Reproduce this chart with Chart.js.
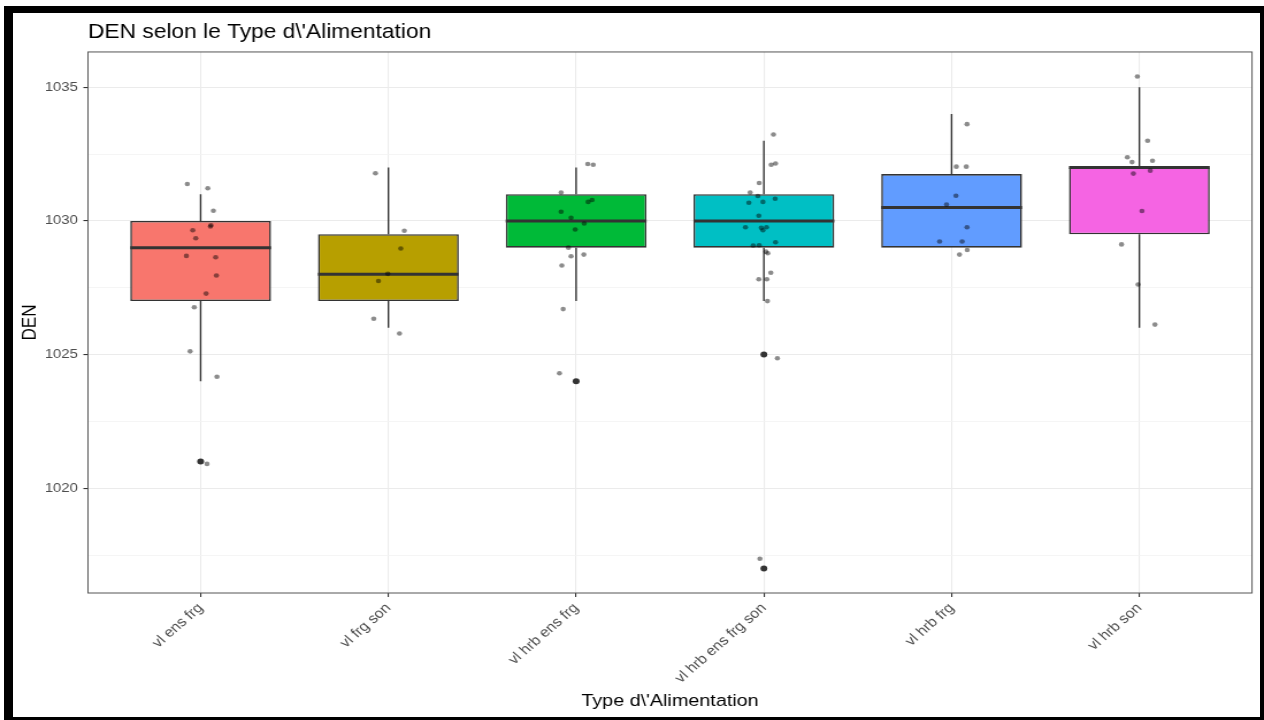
<!DOCTYPE html>
<html>
<head>
<meta charset="utf-8">
<title>DEN selon le Type d'Alimentation</title>
<script src="https://cdn.jsdelivr.net/npm/chart.js@4.4.1/dist/chart.umd.min.js"></script>
<style>
  html, body { margin: 0; padding: 0; background: #fff; overflow: hidden; }
  /* the reference is a horizontally stretched screenshot, so the chart is drawn narrow and stretched */
  #stage { position: absolute; left: 0; top: 0; width: 1099px; height: 720px; transform: scaleX(1.1501); transform-origin: 0 0; }
  #frame { position: absolute; left: 4px; top: 6px; width: 1260px; height: 714px; box-sizing: border-box;
           border-style: solid; border-color: #000; border-width: 7px 4px 3px 9px; pointer-events: none; }
</style>
</head>
<body>
<div id="stage"><canvas id="chart" width="1099" height="720"></canvas></div>
<div id="frame"></div>
<script>
// categories and box statistics
const categories = ['vl ens frg', 'vl frg son', 'vl hrb ens frg', 'vl hrb ens frg son', 'vl hrb frg', 'vl hrb son'];
const boxQ1 = [1027, 1027, 1029, 1029, 1029, 1029.5];
const boxMedian = [1029, 1028, 1030, 1030, 1030.5, 1032];
const boxQ3 = [1030, 1029.5, 1031, 1031, 1031.75, 1032];
const whiskerLow = [1024, 1026, 1027, 1027, 1029, 1026];
const whiskerHigh = [1031, 1032, 1032, 1033, 1034, 1035];
const outlierGroup = [1, 3, 4, 4];
const outlierValue = [1021, 1024, 1025, 1017];

// jittered observations: horizontal offset from the category centre, and value
const jitterDx = [
  [-0.071, 0.038, 0.068, 0.055, 0.052, -0.042, -0.026, -0.076, 0.080, 0.084, 0.029, -0.034, -0.056, 0.087, 0.034],
  [-0.069, 0.085, 0.066, -0.003, -0.053, -0.078, 0.059],
  [0.062, 0.091, -0.080, 0.085, 0.064, -0.080, -0.027, 0.043, -0.005, -0.041, -0.027, 0.041, -0.076, -0.069, -0.089],
  [0.051, 0.039, 0.062, -0.025, -0.073, -0.032, 0.060, -0.080, -0.005, -0.027, -0.098, -0.014, 0.014, -0.005, -0.057,
   -0.025, 0.062, 0.011, 0.021, 0.037, -0.027, 0.016, 0.019, 0.072, -0.021],
  [0.082, 0.025, 0.078, 0.023, -0.027, 0.082, -0.064, 0.056, 0.083, 0.042],
  [-0.011, 0.044, -0.064, -0.039, 0.070, 0.058, -0.032, 0.014, -0.095, -0.007, 0.083]
];
const jitterY = [
  [1031.38, 1031.22, 1030.38, 1029.84, 1029.79, 1029.65, 1029.35, 1028.69, 1028.64, 1027.96, 1027.28, 1026.77, 1025.12, 1024.17, 1020.91],
  [1031.78, 1029.63, 1028.97, 1028.02, 1027.75, 1026.34, 1025.79],
  [1032.13, 1032.10, 1031.06, 1030.78, 1030.71, 1030.34, 1030.12, 1029.90, 1029.68, 1029.00, 1028.68, 1028.74, 1028.33, 1026.70, 1024.30],
  [1033.23, 1032.10, 1032.15, 1031.42, 1031.06, 1030.93, 1030.83, 1030.68, 1030.71, 1030.19, 1029.76, 1029.74, 1029.76, 1029.65, 1029.08,
   1029.09, 1029.20, 1028.85, 1028.79, 1028.06, 1027.82, 1027.82, 1027.00, 1024.86, 1017.36],
  [1033.62, 1032.03, 1032.03, 1030.94, 1030.61, 1029.76, 1029.23, 1029.23, 1028.91, 1028.74],
  [1035.40, 1033.00, 1032.38, 1032.20, 1032.25, 1031.88, 1031.77, 1030.37, 1029.12, 1027.62, 1026.12]
];

const fillColors = ['#F8766D', '#B79F00', '#00BA38', '#00BFC4', '#619CFF', '#F564E3'];
const yMajorTicks = [1020, 1025, 1030, 1035];
const yMinorTicks = [1017.5, 1022.5, 1027.5, 1032.5];

Chart.defaults.font.family = "'Liberation Sans', Arial, sans-serif";

const pos = categories.map((c, i) => i + 1);
const halfBox = 0.375;

const boxes = pos.map((x, i) => ({ x, y: [boxQ1[i], boxQ3[i]] }));

const whiskers = [];
pos.forEach((x, i) => {
  whiskers.push({ x, y: whiskerLow[i] }, { x, y: boxQ1[i] }, { x, y: null },
                { x, y: boxQ3[i] }, { x, y: whiskerHigh[i] }, { x, y: null });
});

const medians = [];
pos.forEach((x, i) => {
  medians.push({ x: x - halfBox, y: boxMedian[i] }, { x: x + halfBox, y: boxMedian[i] }, { x, y: null });
});

const outliers = outlierGroup.map((g, i) => ({ x: g, y: outlierValue[i] }));

const points = [];
jitterY.forEach((ys, g) => ys.forEach((y, k) => points.push({ x: pos[g] + jitterDx[g][k], y })));

const isMajor = v => yMajorTicks.includes(v);

const panelBorder = {
  id: 'panelBorder',
  afterDraw(chart) {
    const { ctx, chartArea: a } = chart;
    ctx.save();
    ctx.strokeStyle = '#555555';
    ctx.lineWidth = 1;
    ctx.strokeRect(a.left, a.top, a.width, a.height);
    ctx.restore();
  }
};

new Chart(document.getElementById('chart'), {
  type: 'bar',
  data: {
    datasets: [
      { type: 'line', data: whiskers, borderColor: '#333333', borderWidth: 1.4, pointRadius: 0, spanGaps: false, order: 4 },
      { type: 'bar', data: boxes, backgroundColor: fillColors, borderColor: '#333333', borderWidth: 1.6,
        borderSkipped: false, categoryPercentage: 1, barPercentage: 0.75, order: 3 },
      { type: 'line', data: medians, borderColor: '#333333', borderWidth: 3, pointRadius: 0, spanGaps: false, order: 2 },
      { type: 'scatter', data: outliers, backgroundColor: '#333333', pointRadius: 3, borderWidth: 0, order: 1 },
      { type: 'scatter', data: points, backgroundColor: 'rgba(0,0,0,0.45)', pointRadius: 2.3, borderWidth: 0, order: 0 }
    ]
  },
  options: {
    responsive: false,
    animation: false,
    layout: { padding: { left: 12, right: 10.4, top: 0, bottom: 0 } },
    plugins: {
      legend: { display: false },
      tooltip: { enabled: false },
      title: {
        display: true, text: "DEN selon le Type d\\'Alimentation", align: 'start', fullSize: false,
        color: '#000', font: { size: 19.8, weight: 'normal' }, padding: { top: 20.2, bottom: 8 }
      }
    },
    scales: {
      x: {
        type: 'linear', min: 0.4, max: 6.6, offset: false,
        afterBuildTicks: s => { s.ticks = pos.map(v => ({ value: v })); },
        afterFit: s => { s.height = 127; },
        grid: { offset: false, color: '#EBEBEB', lineWidth: 1.1, tickColor: '#333333', tickLength: 4, tickWidth: 1.1 },
        border: { display: false },
        ticks: {
          autoSkip: false, minRotation: 45, maxRotation: 45, color: '#4D4D4D', padding: 3,
          font: { size: 13.8 }, callback: v => categories[Math.round(v) - 1]
        },
        title: { display: true, text: "Type d\\'Alimentation", color: '#000', font: { size: 17.2 }, padding: { top: 4, bottom: 8 } }
      },
      y: {
        type: 'linear', min: 1016.08, max: 1036.32,
        afterBuildTicks: s => {
          s.ticks = [...yMinorTicks, ...yMajorTicks].sort((a, b) => a - b).map(v => ({ value: v }));
        },
        afterFit: s => { s.width = 64.5; },
        grid: {
          color: c => (c.tick && isMajor(c.tick.value)) ? '#EBEBEB' : '#F3F3F3',
          lineWidth: c => (c.tick && isMajor(c.tick.value)) ? 1.1 : 0.8,
          tickColor: c => (c.tick && isMajor(c.tick.value)) ? '#333333' : 'rgba(0,0,0,0)',
          tickLength: 4, tickWidth: 1.1
        },
        border: { display: false },
        ticks: {
          color: '#4D4D4D', padding: 4.7, font: { size: 13 },
          callback: v => isMajor(v) ? String(v) : ''
        },
        title: { display: true, text: 'DEN', color: '#000', font: { size: 17.2 }, padding: { top: 3.8, bottom: 0 } }
      }
    }
  },
  plugins: [panelBorder]
});
</script>
</body>
</html>
